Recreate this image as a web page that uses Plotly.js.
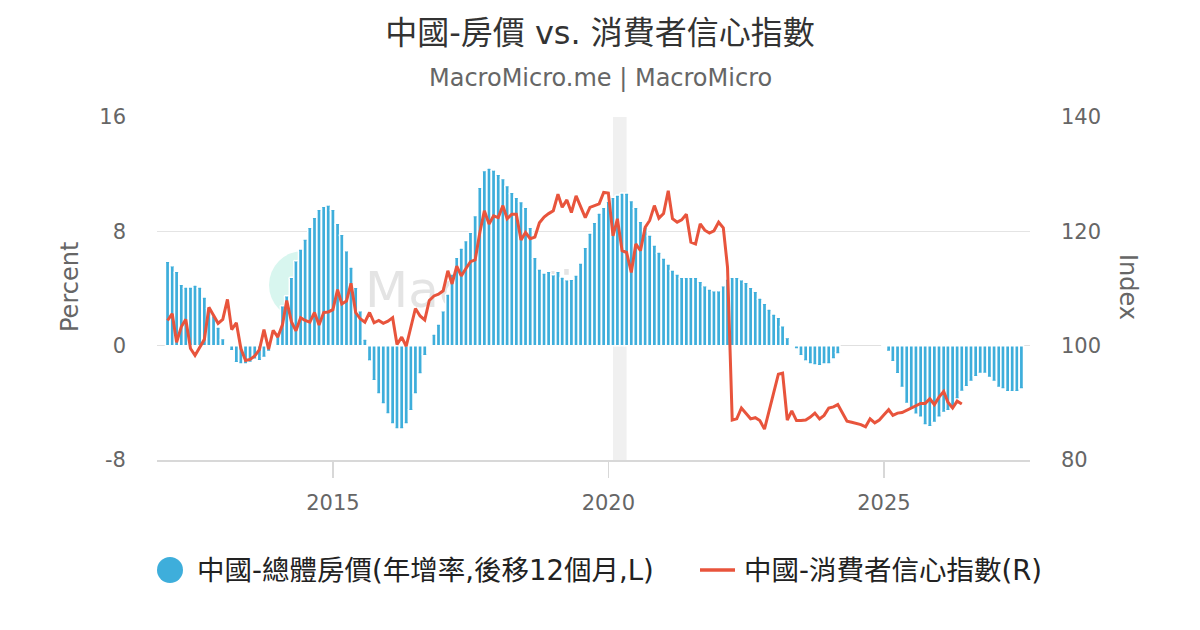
<!DOCTYPE html>
<html>
<head>
<meta charset="utf-8">
<script src="https://cdn.plot.ly/plotly-3.0.1.min.js"></script>
<style>
  html, body { margin: 0; padding: 0; background: #ffffff; }
  #chart { width: 1200px; height: 630px; }
</style>
</head>
<body>
<div id="chart"></div>
<script>
// ---- Data (monthly, first value = January 2012) ----
const startYear = 2012;
const startMonth = 1;

// 中國-總體房價(年增率,後移12個月,L) — percent, shifted forward 12 months
const housePriceYoY = [
  5.9, 5.6, 5.2, 4.3, 4.1, 4.1, 4.25, 4.1, 3.4, 2.7, 2.1, 1.3,
  0.5, 0.05, -0.35, -1.2, -1.28, -1.28, -1.17, -0.95, -1.05, -0.82, -0.4, 0.05,
  0.9, 2.8, 3.5, 4.78, 5.95, 6.77, 7.47, 8.28, 8.98, 9.55, 9.75, 9.85,
  9.55, 8.57, 7.8, 6.65, 5.5, 4.08, 2.45, 0.47, -1.08, -2.45, -3.38, -4.08,
  -4.78, -5.48, -5.83, -5.83, -5.48, -4.55, -3.38, -1.98, -0.7, 0.0, 0.82, 1.52,
  2.45, 3.62, 5.02, 6.18, 6.83, 7.35, 7.93, 9.1, 11.08, 12.25, 12.43, 12.3,
  12.0, 11.7, 11.2, 10.73, 10.38, 10.08, 9.68, 8.28, 6.18, 5.37, 5.09, 5.2,
  4.97, 5.2, 4.8, 4.62, 4.64, 4.95, 5.79, 6.88, 7.88, 8.63, 9.28, 9.68,
  10.1, 10.38, 10.54, 10.68, 10.68, 10.15, 9.68, 8.7, 8.28, 7.75, 7.05, 6.55,
  6.14, 5.72, 5.3, 5.02, 4.78, 4.78, 4.78, 4.78, 4.5, 4.2, 3.97, 3.85,
  3.85, 4.2, 4.67, 4.78, 4.78, 4.62, 4.43, 4.08, 3.8, 3.34, 2.96, 2.57,
  2.22, 1.98, 1.4, 0.58, 0.0, -0.23, -0.7, -1.08, -1.28, -1.35, -1.4, -1.28,
  -1.28, -0.93, -0.58, null, null, null, null, null, null, null, null, null,
  -0.1, -0.4, -1.13, -1.96, -2.92, -4.05, -4.4, -4.8, -5.0, -5.55, -5.67, -5.37,
  -5.0, -4.67, -4.55, -4.27, -3.73, -3.2, -2.87, -2.5, -2.17, -1.94, -1.94, -2.22,
  -2.5, -2.92, -3.03, -3.22, -3.22, -3.22, -3.03
];

// 中國-消費者信心指數(R) — index
const consumerConfidence = [
  104.4, 105.6, 100.6, 103.3, 104.6, 99.5, 98.3, 99.6, 101.1, 106.7, 105.4, 103.9,
  104.6, 108.1, 102.8, 104.0, 99.5, 97.4, 97.6, 98.2, 99.3, 102.8, 99.4, 102.7,
  101.5, 103.7, 107.9, 104.2, 102.6, 104.9, 104.4, 104.1, 105.8, 103.6, 105.8, 105.9,
  106.3, 109.8, 107.3, 107.8, 110.9, 105.8, 104.7, 104.1, 105.8, 104.0, 104.4, 103.9,
  104.3, 104.9, 100.2, 101.5, 99.9, 103.0, 106.5, 105.2, 104.5, 107.9, 108.7, 109.0,
  109.6, 113.1, 110.8, 113.9, 112.2, 113.5, 114.7, 115.0, 119.8, 123.6, 121.3, 122.7,
  122.4, 124.5, 122.2, 123.0, 123.0, 118.5, 119.8, 118.7, 119.0, 121.5, 122.5, 123.1,
  123.6, 126.5, 124.2, 125.5, 123.3, 126.2, 124.2, 122.4, 124.2, 124.5, 124.8, 126.8,
  126.7, 119.2, 122.2, 116.6, 116.3, 112.8, 117.8, 116.6, 120.7, 121.9, 124.5, 122.3,
  123.1, 127.1, 122.2, 121.6, 122.0, 123.0, 118.1, 117.8, 121.3, 120.2, 119.7, 120.1,
  121.6, 120.6, 113.7, 87.0, 87.2, 89.1, 88.1, 87.2, 87.4, 86.9, 85.4, 88.6,
  92.1, 95.0, 95.2, 87.0, 88.6, 86.9, 86.9, 87.0, 87.5, 88.2, 87.2, 87.8,
  89.1, 89.3, 89.7, 88.3, 86.8, 86.6, 86.4, 86.2, 85.8, 87.2, 86.5, 87.0,
  87.9, 88.8, 87.8, 88.2, 88.3, 88.7, 89.2, 89.5, 89.9, 89.9, 90.7, 89.7,
  91.0, 92.0, 90.1, 89.1, 90.3, 89.8
];

const leftTicks = [-8, 0, 8, 16];
const rightTicks = [80, 100, 120, 140];
const xTickVals = ['2015-01-01', '2020-01-01', '2025-01-01'];
const xTickText = ['2015', '2020', '2025'];

const barName = '中國-總體房價(年增率,後移12個月,L)';
const lineName = '中國-消費者信心指數(R)';

function monthDates(n) {
  const out = [];
  for (let i = 0; i < n; i++) {
    const t = (startMonth - 1) + i;
    const y = startYear + Math.floor(t / 12);
    const m = (t % 12) + 1;
    out.push(y + '-' + String(m).padStart(2, '0') + '-01');
  }
  return out;
}

const barDates = monthDates(housePriceYoY.length);
const lineDates = monthDates(consumerConfidence.length);

const FONT = 'DejaVu Sans, "Noto Sans CJK TC", sans-serif';
const BLUE = '#3eaedb';
const RED = '#e8543c';

// plot area in pixels: x 157..1030, y 117..460
const PL = 157, PR = 1030, PT = 117, PB = 460;
const px = v => (v - PL) / (PR - PL);
const py = v => (PB - v) / (PB - PT);

const watermarkSvg =
  '<svg xmlns="http://www.w3.org/2000/svg" width="400" height="90" viewBox="0 0 400 90">' +
  '<circle cx="43" cy="40" r="34" fill="#d8f6ef"/>' +
  '<text x="105" y="62" font-family="DejaVu Sans, sans-serif" font-size="50" fill="#e4e4e4">MacroMicro</text>' +
  '</svg>';
const watermarkUri = 'data:image/svg+xml;charset=utf-8,' + encodeURIComponent(watermarkSvg);

const traces = [
  {
    type: 'bar',
    x: barDates,
    y: housePriceYoY,
    name: barName,
    yaxis: 'y',
    marker: {
      color: BLUE,
      line: { color: '#ffffff', width: 1.5 },
      cornerradius: 2
    },
    showlegend: false,
    hoverinfo: 'x+y'
  },
  {
    type: 'scatter',
    mode: 'lines',
    x: lineDates,
    y: consumerConfidence,
    name: lineName,
    yaxis: 'y2',
    line: { color: RED, width: 3 },
    showlegend: false,
    hoverinfo: 'x+y'
  }
];

const layout = {
  width: 1200,
  height: 630,
  paper_bgcolor: '#ffffff',
  plot_bgcolor: '#ffffff',
  font: { family: FONT, color: '#666666', size: 21 },
  margin: { l: PL, r: 1200 - PR, t: PT, b: 630 - PB, pad: 0 },
  bargap: 0,
  title: {
    text: '中國-房價 vs. 消費者信心指數',
    font: { family: FONT, size: 32, color: '#333333' },
    x: 0.5, xref: 'container', xanchor: 'center',
    y: 1 - 33 / 630, yref: 'container', yanchor: 'middle'
  },
  xaxis: {
    type: 'date',
    range: ['2011-10-23', '2027-08-27'],
    tickvals: xTickVals,
    ticktext: xTickText,
    ticks: 'outside',
    ticklen: 16,
    tickwidth: 1.5,
    tickcolor: '#d8d8d8',
    ticklabelstandoff: 7,
    showline: true,
    linecolor: '#d8d8d8',
    linewidth: 1.5,
    showgrid: false,
    zeroline: false,
    tickfont: { family: FONT, size: 21, color: '#666666' },
    fixedrange: true
  },
  yaxis: {
    range: [-8, 16],
    tickvals: leftTicks,
    ticktext: leftTicks.map(String),
    ticks: '',
    ticklabelstandoff: 30,
    showgrid: true,
    gridcolor: '#e4e4e4',
    gridwidth: 1.5,
    zeroline: true,
    zerolinecolor: '#e0e0e0',
    zerolinewidth: 1.5,
    showline: false,
    tickfont: { family: FONT, size: 21, color: '#666666' },
    fixedrange: true
  },
  yaxis2: {
    range: [80, 140],
    tickvals: rightTicks,
    ticktext: rightTicks.map(String),
    overlaying: 'y',
    side: 'right',
    ticks: '',
    ticklabelstandoff: 30,
    showgrid: false,
    zeroline: false,
    showline: false,
    tickfont: { family: FONT, size: 21, color: '#666666' },
    fixedrange: true
  },
  shapes: [
    {
      type: 'rect', layer: 'below',
      xref: 'x', yref: 'paper',
      x0: '2020-02-01', x1: '2020-05-01', y0: 0, y1: 1,
      fillcolor: '#f0f0f0', line: { width: 0 }
    },
    {
      type: 'circle', xref: 'paper', yref: 'paper',
      x0: px(157), x1: px(183), y0: py(583), y1: py(557),
      fillcolor: BLUE, line: { width: 0 }
    },
    {
      type: 'line', xref: 'paper', yref: 'paper',
      x0: px(700), x1: px(735), y0: py(570), y1: py(570),
      line: { color: RED, width: 3.5 }
    }
  ],
  images: [
    {
      source: watermarkUri,
      xref: 'paper', yref: 'paper',
      x: px(260), y: py(245),
      sizex: 400 / (PR - PL), sizey: 90 / (PB - PT),
      xanchor: 'left', yanchor: 'top',
      sizing: 'stretch',
      layer: 'below'
    }
  ],
  annotations: [
    {
      text: 'MacroMicro.me | MacroMicro',
      xref: 'paper', yref: 'paper',
      x: px(600), y: py(78),
      xanchor: 'center', yanchor: 'middle',
      showarrow: false,
      font: { family: FONT, size: 24, color: '#666666' }
    },
    {
      text: 'Percent',
      xref: 'paper', yref: 'paper',
      x: px(70), y: py(287),
      xanchor: 'center', yanchor: 'middle',
      textangle: -90,
      showarrow: false,
      font: { family: FONT, size: 24, color: '#666666' }
    },
    {
      text: 'Index',
      xref: 'paper', yref: 'paper',
      x: px(1128), y: py(287),
      xanchor: 'center', yanchor: 'middle',
      textangle: 90,
      showarrow: false,
      font: { family: FONT, size: 24, color: '#666666' }
    },
    {
      text: barName,
      xref: 'paper', yref: 'paper',
      x: px(195), y: py(570),
      xanchor: 'left', yanchor: 'middle',
      showarrow: false,
      font: { family: FONT, size: 27.5, color: '#222222' }
    },
    {
      text: lineName,
      xref: 'paper', yref: 'paper',
      x: px(742), y: py(570),
      xanchor: 'left', yanchor: 'middle',
      showarrow: false,
      font: { family: FONT, size: 27.5, color: '#222222' }
    }
  ]
};

Plotly.newPlot('chart', traces, layout, { displayModeBar: false, staticPlot: true });
</script>
</body>
</html>
